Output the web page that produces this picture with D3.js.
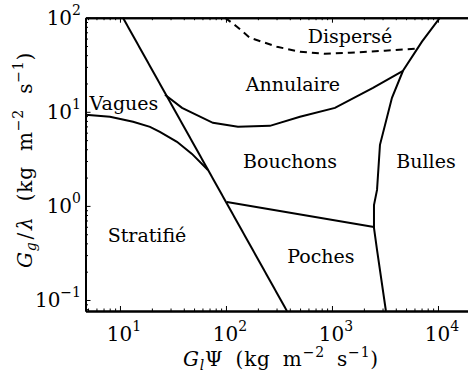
<!DOCTYPE html>
<html>
<head>
<meta charset="UTF-8">
<script src="https://d3js.org/d3.v7.min.js"></script>
<style>
  body { margin: 0; background: #fff; }
  text { font-family: "DejaVu Serif", serif; fill: #000; }
  .axis path, .axis line { stroke: #000; }
  .title { letter-spacing: 0.8px; word-spacing: 5px; }
</style>
</head>
<body>
<svg id="chart" width="468" height="378"></svg>
<script>
// regime boundaries, [G_l*Psi, G_g/lambda]
const stratLine = [[10.67, 100], [376, 0.0764]];
const vaguesLine = [[4.73, 9.29], [8.05, 8.85], [13.3, 7.83], [19.2, 6.92], [23.8, 6.12],
  [34.5, 4.80], [47.8, 3.57], [67.6, 2.41]];
const annulLine = [[26.6, 15.2], [38.5, 11.0], [75.3, 7.64], [129.7, 6.92], [260, 7.09],
  [499, 8.85], [1067, 11.0], [2437, 18.0], [4677, 27.3]];
const dispLine = [[97.9, 100], [127, 80.2], [168, 61.2], [303, 49.1], [499, 43.5],
  [859, 41.4], [1479, 42.4], [3162, 44.6], [6194, 46.8]];
const bullesLine = [[10450, 100], [7063, 55.6], [4677, 27.3], [3681, 14.1], [2837, 4.46],
  [2661, 1.48], [2491, 1.02], [2491, 0.583], [2661, 0.340], [3228, 0.0764]];
const pochesLine = [[102, 1.10], [2491, 0.598]];

// region names and where they sit
const regionNames = ["Dispersé", "Annulaire", "Vagues", "Bouchons", "Bulles", "Stratifié", "Poches"];
const regionX = [1479, 428, 10.9, 402, 7710, 18.0, 787];
const regionY = [54.2, 16.7, 10.5, 2.54, 2.54, 0.414, 0.248];

// tick values
const xTicks = [10, 100, 1000, 10000];
const xTickExp = ["1", "2", "3", "4"];
const yTicks = [0.1, 1, 10, 100];
const yTickExp = ["\u22121", "0", "1", "2"];

const svg = d3.select("#chart");
const mLeft = 85.5, mRight = 468, mTop = 17.7, mBottom = 311;

const x = d3.scaleLog().domain([4.73, 19200]).range([mLeft, mRight]);
const y = d3.scaleLog().domain([0.0764, 100]).range([mBottom, mTop]);

// minor tick values
const xMinor = [];
[1, 10, 100, 1000].forEach(d => { for (let k = 2; k <= 9; k++) { const v = k * d; if (v > 4.73 && v < 19200) xMinor.push(v); } });
const yMinor = [];
[0.01, 0.1, 1, 10].forEach(d => { for (let k = 2; k <= 9; k++) { const v = k * d; if (v > 0.0764 && v < 100) yMinor.push(v); } });

// axes (ticks pointing inwards)
function addAxis(gen, tr, vals, size) {
  svg.append("g").attr("class", "axis").attr("transform", tr)
    .call(gen.tickValues(vals).tickSize(size).tickSizeOuter(0).tickFormat(""))
    .call(g => g.selectAll("line").attr("stroke-width", 1))
    .call(g => g.select(".domain").attr("stroke-width", 2));
}
addAxis(d3.axisBottom(x), `translate(0,${mBottom})`, xMinor, -2.5);
addAxis(d3.axisBottom(x), `translate(0,${mBottom})`, xTicks, -5);
addAxis(d3.axisTop(x), `translate(0,${mTop})`, xMinor, -2.5);
addAxis(d3.axisTop(x), `translate(0,${mTop})`, xTicks, -5);
addAxis(d3.axisLeft(y), `translate(${mLeft},0)`, yMinor, -2.5);
addAxis(d3.axisLeft(y), `translate(${mLeft},0)`, yTicks, -5);

// tick labels 10^n
const fsTick = 20, fsSup = 14, fsLab = 19, fsTitle = 20;
xTicks.forEach((v, i) => {
  const t = svg.append("text").attr("x", x(v) + 4).attr("y", 341)
    .attr("text-anchor", "middle").attr("font-size", fsTick);
  t.append("tspan").text("10");
  t.append("tspan").attr("font-size", fsSup).attr("dy", -10).text(xTickExp[i]);
});
yTicks.forEach((v, i) => {
  const t = svg.append("text").attr("x", 81).attr("y", y(v) + 7.5)
    .attr("text-anchor", "end").attr("font-size", fsTick);
  t.append("tspan").text("10");
  t.append("tspan").attr("font-size", fsSup).attr("dy", -10).text(yTickExp[i]);
});

// boundaries
const line = d3.line().x(d => x(d[0])).y(d => y(d[1]));
const plot = svg.append("g");
[stratLine, vaguesLine, annulLine, bullesLine, pochesLine].forEach(b => {
  plot.append("path").attr("d", line(b)).attr("fill", "none")
    .attr("stroke", "#000").attr("stroke-width", 2);
});
plot.append("path").attr("d", line(dispLine)).attr("fill", "none")
  .attr("stroke", "#000").attr("stroke-width", 2).attr("stroke-dasharray", "7,5");

// region labels
regionNames.forEach((n, i) => {
  svg.append("text").attr("x", x(regionX[i])).attr("y", y(regionY[i]))
    .attr("text-anchor", "middle").attr("font-size", fsLab).text(n);
});

// x title
const xt = svg.append("text").attr("class", "title").attr("x", 281).attr("y", 366)
  .attr("text-anchor", "middle").attr("font-size", fsTitle);
xt.append("tspan").attr("font-style", "italic").text("G");
xt.append("tspan").attr("font-style", "italic").attr("font-size", fsSup).attr("dy", 4).text("l");
xt.append("tspan").attr("dy", -4).text("\u03A8 (kg m");
xt.append("tspan").attr("font-size", fsSup).attr("dy", -9).text("\u22122");
xt.append("tspan").attr("dy", 9).text(" s");
xt.append("tspan").attr("font-size", fsSup).attr("dy", -9).text("\u22121");
xt.append("tspan").attr("dy", 9).text(")");

// y title
const yt = svg.append("text").attr("class", "title").attr("transform", "translate(32,160) rotate(-90)")
  .attr("text-anchor", "middle").attr("font-size", fsTitle).style("word-spacing", "8px");
yt.append("tspan").attr("font-style", "italic").text("G");
yt.append("tspan").attr("font-style", "italic").attr("font-size", fsSup).attr("dy", 4).text("g");
yt.append("tspan").attr("dy", -4).attr("dx", 2).text("/");
yt.append("tspan").attr("font-style", "italic").attr("dx", 2).text("\u03BB");
yt.append("tspan").text(" (kg m");
yt.append("tspan").attr("font-size", fsSup).attr("dy", -9).text("\u22122");
yt.append("tspan").attr("dy", 9).text(" s");
yt.append("tspan").attr("font-size", fsSup).attr("dy", -9).text("\u22121");
yt.append("tspan").attr("dy", 9).text(")");
</script>
</body>
</html>
